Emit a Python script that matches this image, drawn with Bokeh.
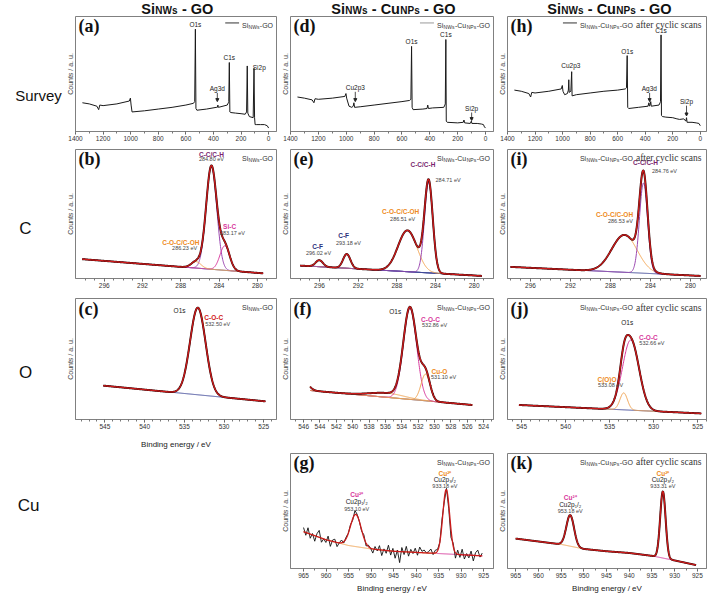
import numpy as np
from bokeh.plotting import figure
from bokeh.layouts import column, row
from bokeh.models import Range1d, Label, Arrow, NormalHead, Spacer, FixedTicker
from bokeh.embed import file_html
from bokeh.resources import INLINE

SANS = "Liberation Sans"
SERIF = "Liberation Serif"

# ------------------------------------------------------------------ data
# survey spectra: binding energy (eV) and counts (a.u., 0-100 of panel)
survey_a_be = [1350, 1300, 1245, 1232, 1224, 1200, 1100, 1010, 1002, 997, 990, 900, 800, 700, 600,
               545, 536, 531, 527, 520, 450, 380, 372, 368, 364, 300, 292, 289, 285, 281, 275, 240,
               200, 170, 160, 155, 151, 140, 112, 106, 102, 98, 90, 60, 30, 10, 0]
survey_a_ct = [25, 24, 22, 19, 23, 22.5, 24, 26.5, 29, 23, 17, 18, 19.5, 21, 23,
               24.5, 26, 89, 20, 18.5, 19.5, 21, 21, 23, 21, 23, 25, 26, 60, 17, 16.5, 16,
               15.5, 15, 17, 57, 16, 13, 12, 55, 12, 6, 6, 6, 6, 5, 3]
survey_d_be = [1350, 1300, 1245, 1232, 1224, 1200, 1100, 1010, 1002, 997, 980, 960, 950, 945, 940,
               900, 800, 700, 600, 545, 536, 531, 527, 520, 450, 420, 415, 410, 380, 300,
               292, 289, 285, 282, 275, 200, 160, 155, 150, 110, 102, 98, 60, 30, 15, 8, 0]
survey_d_ct = [30, 29, 27.5, 25, 28.5, 28, 29, 30.5, 33, 29, 22, 21, 22, 25, 21,
               21.5, 23, 24.5, 26, 27, 28, 74, 21, 19, 19.5, 20, 23, 20, 20.5, 21,
               23, 24, 80, 9, 8, 7.5, 8, 10, 7.5, 7, 9, 7, 7, 6.5, 6, 4, 3]
survey_h_be = [1350, 1300, 1245, 1232, 1224, 1200, 1100, 1010, 1002, 997, 985, 965, 958, 955, 952,
               940, 934, 931, 900, 800, 700, 600, 545, 536, 531, 527, 520, 450, 380, 373,
               370, 365, 360, 356, 300, 292, 289, 285, 282, 275, 250, 200, 170, 150, 120,
               105, 100, 96, 60, 30, 10, 0]
survey_h_ct = [36, 35, 33, 30, 34, 33.5, 35, 37, 40, 35, 32, 33, 36, 45, 34,
               35, 52, 31, 32, 33.5, 35, 36, 37, 38, 66, 21, 20, 21, 22, 25,
               22, 23, 26, 22, 23, 25, 26, 84, 14, 13, 12.5, 12, 11, 10.5, 11,
               9, 12, 8, 8, 7.5, 7, 5]

# C 1s fits: centre (eV), height, FWHM (eV); data span and background at span ends
c_b_center = [284.80, 283.40, 286.40]
c_b_height = [0.80, 0.19, 0.05]
c_b_fwhm = [1.30, 1.20, 1.20]
c_b_span = [298.3, 279.4]
c_b_bg = [0.15, 0.04]

c_e_center = [296.02, 293.18, 286.90, 284.71]
c_e_height = [0.05, 0.11, 0.32, 0.70]
c_e_fwhm = [0.9, 0.9, 2.3, 1.0]
c_e_span = [298.0, 279.2]
c_e_bg = [0.10, 0.02]

c_i_center = [286.60, 284.70]
c_i_height = [0.29, 0.70]
c_i_fwhm = [3.0, 0.95]
c_i_span = [298.0, 279.0]
c_i_bg = [0.09, 0.02]

# O 1s fits
o_c_center = [533.3]
o_c_height = [0.72]
o_c_fwhm = [2.3]
o_c_span = [545.2, 524.8]
o_c_bg = [0.28, 0.15]

o_f_center = [546.3, 535.8, 533.0, 531.1]
o_f_height = [0.12, 0.035, 0.75, 0.22]
o_f_fwhm = [1.6, 5.0, 1.9, 1.3]
o_f_span = [545.2, 525.4]
o_f_bg = [0.24, 0.12]

o_j_center = [533.4, 532.6]
o_j_height = [0.14, 0.58]
o_j_fwhm = [1.0, 2.2]
o_j_span = [545.3, 524.6]
o_j_bg = [0.12, 0.05]

# Cu 2p fits
cu_g_center = [953.4, 933.3]
cu_g_height = [0.28, 0.56]
cu_g_fwhm = [2.8, 1.8]
cu_g_bg_be = [965, 960, 955, 950, 945, 940, 935, 930, 925.3]
cu_g_bg = [0.32, 0.25, 0.20, 0.17, 0.15, 0.14, 0.13, 0.12, 0.11]
cu_g_noise = [3, -2, 4, -3, 1, -4, 2, 5, -3, 0, -2, 3, -4, 1, 2, -3, 0, 2, -1, 1,
              0, 1, -1, 3, 1, 0, -1, 2, -2, 1, 0, -3, 2, -1, 3, -4, 1, -2, 4, -3,
              2, -5, 1, -8, 3, -2, 4, -3, 2, -1, 3, -2, 4, 1, 2, 0, 1, 3, -1, 2,
              1, 0, 3, -2, 1, -3, -6, 2, -4, 3, -2, 4, -3, 1, -2, 3, -4, 2, 4, -1, 2]

cu_k_center = [953.0, 932.6]
cu_k_height = [0.27, 0.58]
cu_k_fwhm = [2.0, 1.4]
cu_k_bg_be = [965, 960, 955, 950, 945, 940, 935, 930, 925.3]
cu_k_bg = [0.26, 0.235, 0.21, 0.17, 0.15, 0.135, 0.11, 0.07, 0.03]

# ------------------------------------------------------------------ styles
RED = "#cc1a1a"
NAVY = "#3c4596"
PURPLE = "#9b48b0"
PURPLE_T = "#7a1f6e"
MAGENTA = "#d8389c"
ORANGE = "#f2a452"
ORANGE_T = "#ee8a22"
GREY = "#444444"

SANS_W = {' ': .278, '-': .333, '/': .278, '.': .278, '(': .333, ')': .333, 'A': .667, 'C': .722,
          'G': .778, 'N': .722, 'O': .778, 'P': .667, 'S': .667, 'W': .944, 'a': .556, 'c': .5,
          'e': .556, 'f': .278, 'i': .222, 'l': .222, 'n': .556, 'r': .333, 's': .5, 't': .278,
          'u': .556, 'y': .5, 'V': .667}
BOLD_W = {' ': .278, '-': .333, 'C': .722, 'G': .778, 'N': .722, 'O': .778, 'P': .667, 'S': .667,
          'W': .944, 'i': .278, 's': .556, 'u': .611}
SERIF_W = {' ': .25, 'a': .444, 'f': .333, 't': .278, 'e': .444, 'r': .333, 'c': .444, 'y': .5,
           'l': .278, 'i': .278, 's': .389, 'n': .5}


def tw(text, size, serif=False, bold=False):
    tab = SERIF_W if serif else (BOLD_W if bold else SANS_W)
    return sum(tab.get(ch, 0.556) for ch in text) * size


def bare_figure(width, height, xr, yr):
    f = figure(width=width, height=height, x_range=Range1d(*xr), y_range=Range1d(*yr),
               output_backend="svg", toolbar_location=None, x_axis_type=None, y_axis_type=None,
               title=None, min_border=0, min_border_left=0, min_border_right=0,
               min_border_top=0, min_border_bottom=0, outline_line_color=None)
    f.grid.visible = False
    return f


class Panel:
    def __init__(self, width, height, borders, xr, yr, major, minor, xlabel=False, lab_standoff=3):
        l, r, t, b = borders
        self.W = width - l - r
        self.H = height - t - b
        self.xr = xr
        self.yr = yr
        p = figure(width=width, height=height, x_range=Range1d(xr[0], xr[1]),
                   y_range=Range1d(yr[0], yr[1]), output_backend="svg", toolbar_location=None,
                   title=None,
                   min_border_left=l, min_border_right=r, min_border_top=t, min_border_bottom=b)
        p.grid.visible = False
        p.outline_line_color = "#808080"
        p.outline_line_width = 1
        p.border_fill_color = "white"
        xa = p.xaxis[0]
        xa.ticker = FixedTicker(ticks=major, minor_ticks=minor)
        xa.axis_line_color = "#808080"
        xa.major_tick_line_color = "#555555"
        xa.minor_tick_line_color = "#777777"
        xa.major_tick_in = 0
        xa.major_tick_out = 3
        xa.minor_tick_in = 0
        xa.minor_tick_out = 2
        xa.major_label_text_font = SANS
        xa.major_label_text_font_size = "6.5px"
        xa.major_label_text_color = "#333333"
        xa.major_label_standoff = 1
        if xlabel:
            xa.axis_label = "Binding energy / eV"
            xa.axis_label_text_font = SANS
            xa.axis_label_text_font_size = "8px"
            xa.axis_label_text_font_style = "normal"
            xa.axis_label_text_color = "#222222"
            xa.axis_label_standoff = lab_standoff
        ya = p.yaxis[0]
        ya.ticker = FixedTicker(ticks=[])
        ya.axis_line_color = None
        ya.major_tick_line_color = None
        ya.minor_tick_line_color = None
        ya.major_label_text_font_size = "0px"
        ya.major_label_standoff = 0
        ya.axis_label = "Counts / a. u."
        ya.axis_label_text_font = SANS
        ya.axis_label_text_font_size = "7px"
        ya.axis_label_text_font_style = "normal"
        ya.axis_label_text_color = "#444444"
        ya.axis_label_standoff = 2
        self.p = p

    def dx(self, px):
        return self.xr[0] + px / self.W * (self.xr[1] - self.xr[0])

    def dy(self, py):
        return self.yr[1] - py / self.H * (self.yr[1] - self.yr[0])

    def label(self, text, x, y, color=GREY, size=5.5, bold=False, align="center", font=SANS):
        self.p.add_layout(Label(x=x, y=y, text=text, text_color=color, text_font=font,
                                text_font_size=f"{size}px", text_align=align,
                                text_baseline="middle",
                                text_font_style="bold" if bold else "normal"))

    def rich(self, x_px, y_px, pieces, color="#333333"):
        widths = [tw(t, s, sf) * 1.03 + 0.2 for (t, s, dy, sf) in pieces]
        x0 = x_px - sum(widths)
        start = x0
        for (t, s, dy, sf), w in zip(pieces, widths):
            body = t.lstrip(" ")
            lead = tw(" " * (len(t) - len(body)), s, sf) * 1.03
            self.p.add_layout(Label(x=self.dx(x0 + lead), y=self.dy(y_px + dy), text=body,
                                    text_font=SERIF if sf else SANS, text_font_size=f"{s}px",
                                    text_color=color, text_align="left",
                                    text_baseline="alphabetic"))
            x0 += w
        return start

    def letter(self, text):
        self.p.add_layout(Label(x=self.dx(3), y=self.dy(10), text=text, text_font=SERIF,
                                text_font_size="18px", text_font_style="bold",
                                text_color="#111111", text_baseline="middle"))

    def arrow(self, x, y0, y1):
        self.p.add_layout(Arrow(x_start=x, y_start=y0, x_end=x, y_end=y1, line_width=0.8,
                                line_color="#222222",
                                end=NormalHead(size=3, fill_color="#222222",
                                               line_color="#222222")))


def legend(P, kind, line=False):
    pieces = [("Si", 7, 0, False), ("NWs", 5, 1.5, False)]
    if kind >= 1:
        pieces += [("-Cu", 7, 0, False), ("NPs", 5, 1.5, False)]
    pieces += [("-GO", 7, 0, False)]
    if kind == 2:
        pieces += [(" after cyclic scans", 9.5, 0, True)]
    x_start = P.rich(P.W - 3, 9, pieces)
    if line:
        P.p.add_layout(Arrow(x_start=P.dx(x_start - 17), y_start=P.dy(6.5),
                             x_end=P.dx(x_start - 3), y_end=P.dy(6.5), end=None,
                             line_color="#333333" if kind != 1 else "#999999", line_width=1))


def gauss(x, c, h, w):
    return h * np.exp(-4 * np.log(2) * ((x - c) / w) ** 2)


def draw_fit(P, span, bg_be, bg_val, centers, heights, fwhms, colors, bg_split=None,
             noise=None, comps=True):
    p = P.p
    x = np.linspace(span[0], span[1], 600)
    o = np.argsort(bg_be)
    bg = np.interp(x, np.array(bg_be, float)[o], np.array(bg_val, float)[o])
    parts = [gauss(x, c, h, w) for c, h, w in zip(centers, heights, fwhms)]
    env = bg + np.sum(parts, axis=0)
    if bg_split is None:
        p.line(x, bg, line_color=NAVY, line_width=1)
    else:
        m = x >= bg_split
        p.line(x[m], bg[m], line_color=ORANGE, line_width=1)
        p.line(x[~m], bg[~m], line_color=MAGENTA, line_width=1)
    if comps:
        for part, col in zip(parts, colors):
            p.line(x, bg + part, line_color=col, line_width=1)
    if noise is not None:
        xn = np.linspace(span[0], span[1], len(noise))
        raw = np.interp(xn, x[::-1], env[::-1]) + 0.012 * np.array(noise, float)
        p.line(xn, raw, line_color="#111111", line_width=0.9)
    else:
        p.line(x, env, line_color="#2a0a0a", line_width=2.0)
    p.line(x, env, line_color=RED, line_width=1.3)


# ------------------------------------------------------------------ geometry
STRIP = 63
HEAD = 16
W1, W2, W3 = 214, 217, 215
B1, B2, B3 = (10, 1), (13, 1), (13, 3)
SURV_T = list(range(1400, -1, -200))
SURV_M = list(range(1400, -1, -100))
C_T = [296, 292, 288, 284, 280]
C_M = list(range(279, 299))
O_T = [545, 540, 535, 530, 525]
O_M = list(range(524, 549))
OF_T = list(range(546, 523, -2))
OF_M = list(range(523, 548))
CU_T = list(range(965, 924, -5))
CU_M = [925 + 2.5 * i for i in range(17)]

H1, H2, H3, H3a, H4 = 127, 147, 141, 161, 164
BR1, BR2, BR3, BR3a, BR4 = (0, 11), (6, 11), (8, 12), (8, 32), (22, 26)

# row 1 survey
pa = Panel(W1, H1, B1 + BR1, (1400, -57), (0, 100), SURV_T, SURV_M)
pd = Panel(W2, H1, B2 + BR1, (1400, -57), (0, 100), SURV_T, SURV_M)
ph = Panel(W3, H1, B3 + BR1, (1400, -45), (0, 100), SURV_T, SURV_M)
pa.p.line(survey_a_be, survey_a_ct, line_color="#1a1a1a", line_width=1)
pd.p.line(survey_d_be, survey_d_ct, line_color="#1a1a1a", line_width=1)
ph.p.line(survey_h_be, survey_h_ct, line_color="#1a1a1a", line_width=1)

for P, items in ((pa, [("O1s", 531, 93), ("C1s", 285, 64), ("Si2p", 68, 56), ("Ag3d", 372, 37)]),
                 (pd, [("O1s", 531, 78), ("C1s", 285, 84), ("Cu2p3", 935, 38), ("Si2p", 100, 20)]),
                 (ph, [("C1s", 285, 88), ("O1s", 531, 70), ("Cu2p3", 940, 57), ("Ag3d", 370, 37),
                       ("Si2p", 100, 26)])):
    for t, x, y in items:
        P.label(t, x, y, color="#222222", size=6.5)
pa.arrow(372, 33.5, 26)
pd.arrow(935, 34.5, 26)
pd.arrow(100, 16.5, 9.5)
ph.arrow(368, 33.5, 26)
ph.arrow(100, 22.5, 13.5)

# row 2 C1s
pb = Panel(W1, H2, B1 + BR2, (299, 278), (0, 1), C_T, C_M)
pe = Panel(W2, H2, B2 + BR2, (299, 278), (0, 1), C_T, C_M)
pi = Panel(W3, H2, B3 + BR2, (298.3, 278.4), (0, 1), C_T, C_M)
draw_fit(pb, c_b_span, c_b_span, c_b_bg, c_b_center, c_b_height, c_b_fwhm, [PURPLE, MAGENTA, ORANGE])
draw_fit(pe, c_e_span, c_e_span, c_e_bg, c_e_center, c_e_height, c_e_fwhm, [NAVY, NAVY, ORANGE, PURPLE])
draw_fit(pi, c_i_span, c_i_span, c_i_bg, c_i_center, c_i_height, c_i_fwhm, [ORANGE, PURPLE])

pb.label("C-C/C-H", 284.8, 0.965, PURPLE_T, 6.5, True)
pb.label("284.80 eV", 284.8, 0.925)
pb.label("Si-C", 282.9, 0.40, MAGENTA, 6.5, True)
pb.label("283.17 eV", 282.6, 0.355)
pb.label("C-O-C/C-OH", 288.0, 0.28, ORANGE_T, 6.5, True)
pb.label("286.23 eV", 287.6, 0.235)
pe.label("C-F", 296.2, 0.25, "#2a2f7a", 6.5, True)
pe.label("296.02 eV", 296.1, 0.20)
pe.label("C-F", 293.5, 0.33, "#2a2f7a", 6.5, True)
pe.label("293.18 eV", 293.0, 0.275)
pe.label("C-O-C/C-OH", 287.6, 0.52, ORANGE_T, 6.5, True)
pe.label("286.51 eV", 287.4, 0.465)
pe.label("C-C/C-H", 285.3, 0.88, PURPLE_T, 6.5, True)
pe.label("284.71 eV", 282.7, 0.76)
pi.label("C-C/C-H", 284.5, 0.90, PURPLE_T, 6.5, True)
pi.label("284.76 eV", 282.6, 0.835)
pi.label("C-O-C/C-OH", 287.6, 0.50, ORANGE_T, 6.5, True)
pi.label("286.53 eV", 287.0, 0.445)

# row 3 O1s
pc = Panel(W1, H3a, B1 + BR3a, (548.7, 523.4), (0, 1), O_T, O_M, xlabel=True, lab_standoff=8)
pf = Panel(W2, H3, B2 + BR3, (547.6, 522.8), (0, 1), OF_T, OF_M)
pj = Panel(W3, H3, B3 + BR3, (546.6, 524.0), (0, 1), O_T, O_M)
draw_fit(pc, o_c_span, o_c_span, o_c_bg, o_c_center, o_c_height, o_c_fwhm, [RED])
draw_fit(pf, o_f_span, o_f_span, o_f_bg, o_f_center, o_f_height, o_f_fwhm, [ORANGE, ORANGE, MAGENTA, ORANGE])
draw_fit(pj, o_j_span, o_j_span, o_j_bg, o_j_center, o_j_height, o_j_fwhm, [ORANGE, MAGENTA])

pc.label("O1s", 535.6, 0.90, "#222222", 6.5)
pc.label("C-O-C", 531.3, 0.84, "#d02020", 6.5, True)
pc.label("532.50 eV", 530.8, 0.79)
pf.label("O1s", 534.8, 0.89, "#222222", 6.5)
pf.label("C-O-C", 530.5, 0.83, MAGENTA, 6.5, True)
pf.label("532.86 eV", 530.0, 0.785)
pf.label("Cu-O", 529.4, 0.40, ORANGE_T, 6.5, True)
pf.label("531.10 eV", 528.9, 0.35)
pj.label("O1s", 533.0, 0.80, "#222222", 6.5)
pj.label("C-O-C", 530.6, 0.68, MAGENTA, 6.5, True)
pj.label("532.66 eV", 530.2, 0.635)
pj.label("C(O)O", 535.3, 0.33, ORANGE_T, 6.5, True)
pj.label("533.08 eV", 534.9, 0.285)

# row 4 Cu2p
pg = Panel(W2, H4, B2 + BR4, (967.9, 922.8), (0, 1), CU_T, CU_M, xlabel=True)
pk = Panel(W3, H4, B3 + BR4, (966.8, 923.0), (0, 1), CU_T, CU_M, xlabel=True)
draw_fit(pg, [965.0, 925.3], cu_g_bg_be, cu_g_bg, cu_g_center, cu_g_height, cu_g_fwhm, [],
         bg_split=935.5, noise=cu_g_noise, comps=False)
draw_fit(pk, [965.0, 925.3], cu_k_bg_be, cu_k_bg, cu_k_center, cu_k_height, cu_k_fwhm, [],
         bg_split=938.0, comps=False)

for P, x1, ys1, x2, ys2, v1, v2 in ((pg, 933.6, (0.83, 0.775, 0.72), 953.2, (0.64, 0.58, 0.52), "933.18 eV", "953.10 eV"),
                                    (pk, 932.6, (0.83, 0.775, 0.72), 953.0, (0.62, 0.56, 0.50), "933.31 eV", "953.18 eV")):
    P.label("Cu²⁺", x1, ys1[0], ORANGE_T, 6.5, True)
    P.label("Cu2p₃/₂", x1, ys1[1], "#222222", 6.5)
    P.label(v1, x1, ys1[2])
    P.label("Cu²⁺", x2, ys2[0], MAGENTA, 6.5, True)
    P.label("Cu2p₁/₂", x2, ys2[1], "#222222", 6.5)
    P.label(v2, x2, ys2[2])

# legends and panel letters
legend(pa, 0, line=True)
legend(pd, 1, line=True)
legend(ph, 2, line=True)
for P in (pb, pc):
    legend(P, 0)
for P in (pe, pf, pg):
    legend(P, 1)
for P in (pi, pj, pk):
    legend(P, 2)
for P, t in ((pa, "(a)"), (pb, "(b)"), (pc, "(c)"), (pd, "(d)"), (pe, "(e)"), (pf, "(f)"),
             (pg, "(g)"), (ph, "(h)"), (pi, "(i)"), (pj, "(j)"), (pk, "(k)")):
    P.letter(t)

# header with column titles
header = bare_figure(709, HEAD, (0, 709), (0, HEAD))
title_parts = [[("Si", 14.5), ("NWs", 10), (" - GO", 14.5)],
               [("Si", 14.5), ("NWs", 10), (" - Cu", 14.5), ("NPs", 10), (" - GO", 14.5)],
               [("Si", 14.5), ("NWs", 10), (" - Cu", 14.5), ("NPs", 10), (" - GO", 14.5)]]
for centre, parts in zip((177, 393, 609), title_parts):
    widths = [tw(t, s, bold=True) + 0.3 for t, s in parts]
    x0 = centre - sum(widths) / 2
    for (t, s), w in zip(parts, widths):
        body = t.lstrip(" ")
        lead = tw(" " * (len(t) - len(body)), s, bold=True)
        header.add_layout(Label(x=x0 + lead, y=HEAD / 2 - (1.6 if s < 12 else 0), text=body,
                                text_font=SANS, text_font_size=f"{s}px",
                                text_font_style="bold", text_color="#111111",
                                text_baseline="middle"))
        x0 += w

# left strip with row names
strip = bare_figure(STRIP, 595 - HEAD, (0, STRIP), (0, 595 - HEAD))
for t, x, y, s in (("Survey", 38, 95, 15), ("C", 25, 228, 17), ("O", 25, 372, 17), ("Cu", 28, 505, 17)):
    strip.add_layout(Label(x=x, y=595 - y, text=t, text_font=SANS, text_font_size=f"{s}px",
                           text_color="#111111", text_align="center", text_baseline="middle"))

col1 = column(pa.p, pb.p, pc.p, Spacer(width=W1, height=595 - HEAD - H1 - H2 - H3a))
col2 = column(pd.p, pe.p, pf.p, pg.p)
col3 = column(ph.p, pi.p, pj.p, pk.p)
layout = column(header, row(strip, col1, col2, col3))

with open("out.html", "w") as f:
    f.write(file_html(layout, INLINE))
